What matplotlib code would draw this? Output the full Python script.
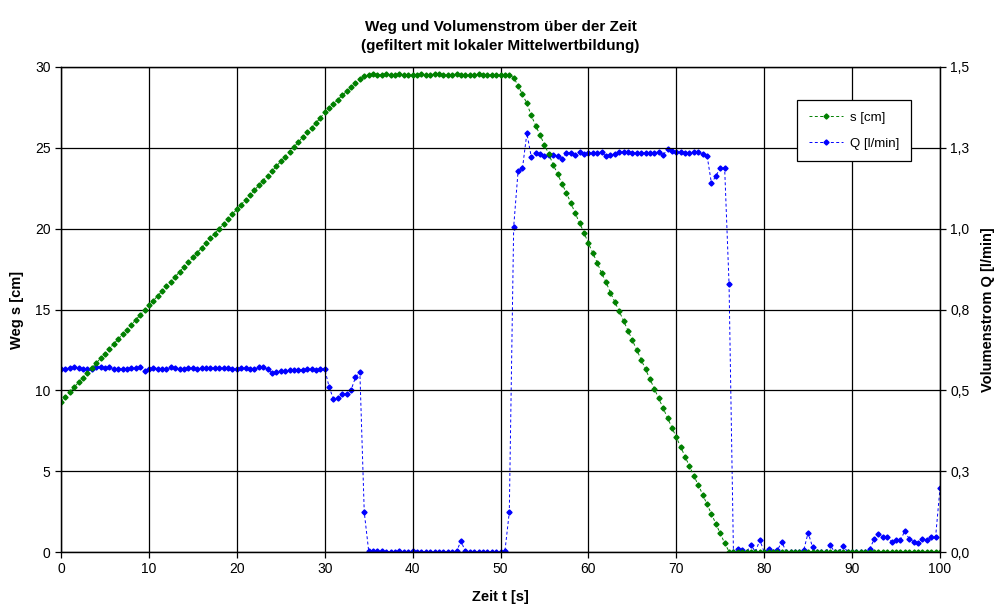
import matplotlib.pyplot as plt
import numpy as np

plt.rcParams['font.family'] = ['Liberation Sans', 'DejaVu Sans']

# Zeitachse: Messung alle 0,5 s
zeit = np.linspace(0, 100, 201)

# Weg s [cm]
weg = [
    9.30, 9.60, 9.89, 10.19, 10.49, 10.79, 11.08, 11.38, 11.68, 11.98,
    12.27, 12.57, 12.87, 13.16, 13.46, 13.76, 14.06, 14.35, 14.65, 14.95,
    15.25, 15.54, 15.84, 16.14, 16.43, 16.73, 17.03, 17.33, 17.62, 17.92,
    18.22, 18.52, 18.81, 19.11, 19.41, 19.70, 20.00, 20.30, 20.60, 20.89,
    21.19, 21.49, 21.78, 22.08, 22.38, 22.68, 22.97, 23.27, 23.57, 23.86,
    24.16, 24.46, 24.76, 25.05, 25.35, 25.65, 25.95, 26.24, 26.54, 26.84,
    27.20, 27.48, 27.72, 27.98, 28.25, 28.50, 28.74, 29.00, 29.25, 29.45,
    29.52, 29.55, 29.50, 29.53, 29.56, 29.52, 29.49, 29.55, 29.53, 29.50,
    29.48, 29.52, 29.54, 29.49, 29.53, 29.55, 29.55, 29.53, 29.49, 29.52,
    29.56, 29.53, 29.50, 29.50, 29.51, 29.54, 29.50, 29.50, 29.52, 29.52,
    29.51, 29.50, 29.48, 29.35, 28.85, 28.30, 27.75, 27.00, 26.38, 25.79,
    25.20, 24.60, 23.95, 23.38, 22.78, 22.20, 21.60, 20.95, 20.35, 19.75,
    19.10, 18.50, 17.90, 17.25, 16.70, 16.05, 15.48, 14.90, 14.30, 13.70,
    13.10, 12.50, 11.90, 11.30, 10.70, 10.10, 9.50, 8.90, 8.30, 7.70,
    7.10, 6.50, 5.90, 5.30, 4.70, 4.15, 3.55, 2.95, 2.35, 1.75,
    1.15, 0.55, 0.03, 0.00, 0.00, 0.00, 0.00, 0.00, 0.00, 0.00,
    0.00, 0.00, 0.00, 0.00, 0.00, 0.00, 0.00, 0.00, 0.00, 0.00,
    0.00, 0.00, 0.00, 0.00, 0.00, 0.00, 0.00, 0.00, 0.00, 0.00,
    0.00, 0.00, 0.00, 0.00, 0.00, 0.00, 0.00, 0.00, 0.00, 0.00,
    0.00, 0.00, 0.00, 0.00, 0.00, 0.00, 0.00, 0.00, 0.00, 0.00,
    0.00,
]

# Volumenstrom Q [l/min]
volstrom = [
    0.566, 0.567, 0.569, 0.571, 0.568, 0.566, 0.565, 0.567, 0.571, 0.572,
    0.569, 0.573, 0.567, 0.566, 0.567, 0.566, 0.568, 0.570, 0.571, 0.561,
    0.566, 0.570, 0.567, 0.566, 0.567, 0.571, 0.568, 0.566, 0.567, 0.569,
    0.568, 0.566, 0.569, 0.568, 0.569, 0.569, 0.568, 0.570, 0.569, 0.566,
    0.565, 0.569, 0.569, 0.566, 0.565, 0.571, 0.573, 0.565, 0.554, 0.557,
    0.560, 0.561, 0.562, 0.563, 0.563, 0.564, 0.565, 0.565, 0.563, 0.566,
    0.566, 0.511, 0.472, 0.475, 0.488, 0.490, 0.501, 0.540, 0.557, 0.123,
    0.004, 0.004, 0.004, 0.003, 0.001, 0.001, 0.000, 0.002, 0.001, 0.000,
    0.002, 0.000, 0.000, 0.001, 0.000, 0.000, 0.000, 0.001, 0.000, 0.000,
    0.002, 0.034, 0.002, 0.000, 0.001, 0.000, 0.000, 0.000, 0.001, 0.000,
    0.000, 0.002, 0.123, 1.006, 1.178, 1.187, 1.295, 1.222, 1.233, 1.230,
    1.226, 1.228, 1.227, 1.224, 1.217, 1.235, 1.235, 1.228, 1.238, 1.232,
    1.234, 1.234, 1.234, 1.237, 1.224, 1.229, 1.230, 1.238, 1.238, 1.238,
    1.234, 1.234, 1.234, 1.234, 1.235, 1.234, 1.238, 1.228, 1.245, 1.240,
    1.236, 1.236, 1.234, 1.234, 1.237, 1.237, 1.230, 1.226, 1.140, 1.163,
    1.188, 1.188, 0.829, 0.000, 0.008, 0.005, 0.000, 0.022, 0.000, 0.037,
    0.000, 0.009, 0.000, 0.005, 0.032, 0.000, 0.000, 0.000, 0.000, 0.006,
    0.060, 0.015, 0.000, 0.000, 0.000, 0.022, 0.000, 0.000, 0.019, 0.000,
    0.000, 0.000, 0.000, 0.000, 0.008, 0.040, 0.056, 0.047, 0.047, 0.032,
    0.037, 0.037, 0.065, 0.040, 0.032, 0.029, 0.040, 0.037, 0.047, 0.047,
    0.197,
]

x_ticks = np.arange(0, 101, 10)
weg_ticks = np.arange(0, 31, 5)
q_ticks = [0.0, 0.25, 0.5, 0.75, 1.0, 1.25, 1.5]
q_labels = ['0,0', '0,3', '0,5', '0,8', '1,0', '1,3', '1,5']

fig = plt.figure(figsize=(9.96, 6.10), dpi=100)
ax = fig.add_axes([61 / 996, 1 - 552 / 610, 879 / 996, 485 / 610])
ax2 = ax.twinx()

# linke Achse oben zeichnen, Hintergrund von der rechten Achse
ax.set_zorder(ax2.get_zorder() + 1)
ax.patch.set_visible(False)
ax2.patch.set_facecolor('#FFFCCC')

ln_q, = ax2.plot(zeit, volstrom, color='#0000FF', linestyle=(0, (3, 2.5)), linewidth=0.7,
                 marker='D', markersize=2.6, label='Q [l/min]')
ln_s, = ax.plot(zeit, weg, color='#008000', linestyle=(0, (3, 2.5)), linewidth=0.7,
                marker='D', markersize=2.6, label='s [cm]')

ax.set_xlim(0, 100)
ax.set_ylim(0, 30)
ax2.set_ylim(0, 1.5)
ax.set_xticks(x_ticks)
ax.set_yticks(weg_ticks)
ax2.set_yticks(q_ticks)
ax2.set_yticklabels(q_labels)

ax.grid(True, color='black', linewidth=0.9)
ax.set_axisbelow(True)
for a in (ax, ax2):
    for sp in a.spines.values():
        sp.set_color('black')
        sp.set_linewidth(0.9)
    a.tick_params(direction='out', length=4, width=0.9, labelsize=10, colors='black')

ax.set_title('Weg und Volumenstrom über der Zeit\n(gefiltert mit lokaler Mittelwertbildung)',
             fontsize=11, fontweight='bold', pad=12, linespacing=1.5)
ax.set_xlabel('Zeit t [s]', fontsize=10.5, fontweight='bold', labelpad=10)
ax.set_ylabel('Weg s [cm]', fontsize=10.5, fontweight='bold', labelpad=8)
ax2.set_ylabel('Volumenstrom Q [l/min]', fontsize=10.5, fontweight='bold', labelpad=8)

leg = ax.legend([ln_s, ln_q], ['s [cm]', 'Q [l/min]'], loc='upper left',
                bbox_to_anchor=(0.837, 0.932), borderaxespad=0, fancybox=False,
                framealpha=1, edgecolor='black', fontsize=9.5, handlelength=2.6,
                handletextpad=0.5, labelspacing=1.0, borderpad=0.9)
leg.get_frame().set_linewidth(0.9)

fig.savefig('out.png', dpi=100)
